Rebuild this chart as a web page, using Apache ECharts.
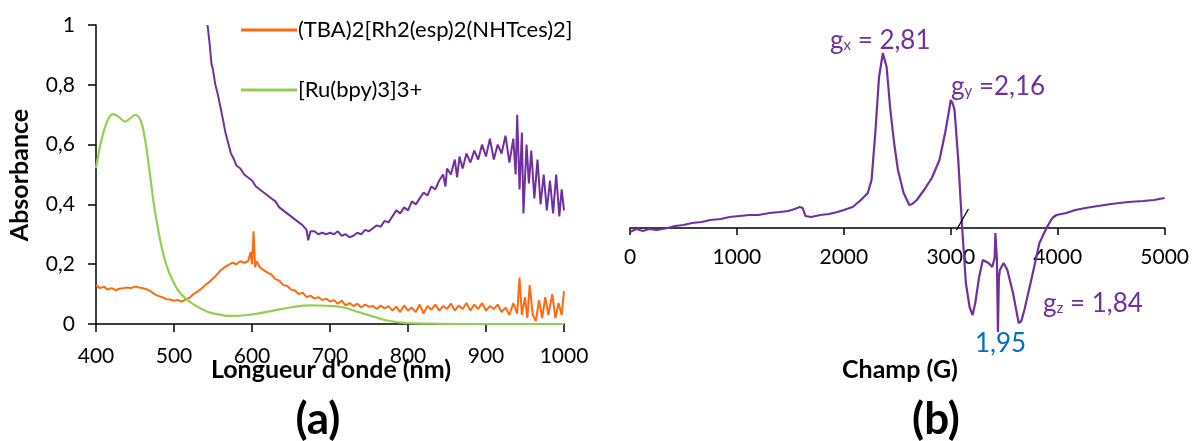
<!DOCTYPE html>
<html>
<head>
<meta charset="utf-8">
<script src="https://cdn.jsdelivr.net/npm/echarts@6/dist/echarts.min.js"></script>
<style>
html,body{margin:0;padding:0;background:#fff;}
#c{width:1192px;height:441px;}
</style>
</head>
<body>
<div id="c"></div>
<script>
// ---------- Data (a): UV-vis absorbance ----------
var wlTicks = [400, 500, 600, 700, 800, 900, 1000];
var absTicks = [0, 0.2, 0.4, 0.6, 0.8, 1];
var seriesNames = ['(TBA)2[Rh2(esp)2(NHTces)2]', '[Ru(bpy)3]3+'];

var rhSpectrum = [
 [400,0.13],[405,0.12],[410,0.125],[415,0.115],[420,0.12],[425,0.113],[430,0.118],[435,0.12],[440,0.122],[445,0.12],
 [450,0.125],[455,0.122],[460,0.12],[465,0.116],[470,0.11],[475,0.1],[480,0.094],[485,0.09],[490,0.083],[495,0.082],
 [500,0.078],[505,0.08],[510,0.075],[515,0.082],[520,0.088],[525,0.1],[530,0.108],[535,0.118],[540,0.13],[545,0.14],
 [550,0.152],[555,0.165],[560,0.18],[565,0.19],[570,0.198],[575,0.205],[580,0.2],[585,0.21],[590,0.205],[595,0.21],
 [598,0.24],[600,0.2],[602,0.31],[604,0.19],[606,0.21],[610,0.19],[615,0.18],[620,0.172],[625,0.165],[630,0.15],
 [635,0.145],[640,0.13],[645,0.128],[650,0.115],[655,0.112],[660,0.1],[665,0.105],[670,0.09],[675,0.095],[680,0.085],
 [685,0.09],[690,0.08],[695,0.085],[700,0.075],[705,0.08],[710,0.068],[715,0.078],[720,0.062],[725,0.07],[730,0.06],
 [735,0.068],[740,0.055],[745,0.065],[750,0.058],[755,0.06],[760,0.05],[765,0.062],[770,0.052],[775,0.06],[780,0.045],
 [785,0.058],[790,0.04],[795,0.062],[800,0.045],[805,0.055],[810,0.04],[815,0.065],[820,0.035],[825,0.06],[830,0.048],
 [835,0.065],[840,0.045],[845,0.06],[850,0.05],[855,0.068],[860,0.045],[865,0.062],[870,0.05],[875,0.07],[880,0.045],
 [885,0.065],[890,0.05],[895,0.07],[900,0.045],[905,0.06],[910,0.05],[915,0.065],[920,0.04],[925,0.055],[930,0.03],
 [935,0.07],[940,0.035],[943,0.155],[946,0.03],[950,0.09],[953,0.02],[956,0.13],[960,0.03],[964,0.01],[968,0.08],
 [972,0.02],[976,0.09],[980,0.03],[985,0.1],[989,0.02],[993,0.07],[997,0.03],[1000,0.11]
];

var ruSpectrum = [
 [400,0.521],[407,0.615],[415,0.682],[422,0.702],[430,0.691],[437,0.677],[444,0.688],[450,0.699],[457,0.682],[463,0.615],
 [469,0.504],[474,0.404],[479,0.326],[484,0.259],[491,0.192],[499,0.142],[508,0.103],[523,0.069],[543,0.041],[563,0.029],
 [573,0.027],[597,0.031],[622,0.042],[651,0.056],[676,0.062],[696,0.061],[716,0.056],[735,0.041],[755,0.025],[775,0.011],
 [799,0.003],[829,0.001],[868,0],[930,0],[1000,0]
];

var mixSpectrum = [
 [543,1.0],[546,0.93],[548,0.87],[550,0.85],[553,0.8],[556,0.77],[560,0.72],[563,0.68],[566,0.64],[570,0.6],
 [573,0.57],[577,0.55],[580,0.53],[585,0.52],[590,0.5],[595,0.49],[600,0.48],[605,0.46],[610,0.45],[615,0.44],
 [620,0.43],[625,0.42],[630,0.41],[635,0.39],[640,0.38],[645,0.37],[650,0.36],[655,0.35],[660,0.34],[665,0.33],
 [670,0.315],[672,0.28],[675,0.31],[680,0.31],[685,0.3],[690,0.305],[695,0.3],[700,0.305],[705,0.3],[710,0.31],
 [715,0.295],[720,0.3],[725,0.29],[730,0.295],[735,0.305],[740,0.3],[745,0.315],[750,0.31],[755,0.32],[760,0.33],
 [765,0.325],[770,0.345],[775,0.34],[780,0.36],[785,0.38],[790,0.37],[795,0.39],[800,0.38],[805,0.41],[810,0.4],
 [815,0.42],[820,0.44],[825,0.43],[830,0.46],[835,0.45],[840,0.48],[845,0.5],[848,0.46],[850,0.52],[855,0.5],
 [860,0.55],[863,0.49],[866,0.56],[870,0.52],[875,0.57],[880,0.54],[885,0.58],[890,0.55],[895,0.6],[900,0.56],
 [905,0.62],[910,0.55],[915,0.6],[920,0.57],[925,0.63],[930,0.54],[935,0.62],[938,0.5],[940,0.7],[943,0.45],
 [946,0.64],[948,0.37],[952,0.6],[955,0.47],[958,0.58],[962,0.42],[966,0.55],[970,0.4],[974,0.5],[978,0.38],
 [982,0.48],[986,0.37],[990,0.5],[994,0.36],[997,0.45],[1000,0.38]
];

// ---------- Data (b): EPR spectrum (arbitrary units) ----------
var fieldTicks = [0, 1000, 2000, 3000, 4000, 5000];
var eprSpectrum = [
 [0,-4],[60,-1],[120,-3],[180,-1],[250,-2],[353,0],[420,2],[500,3],[580,5],[670,6],[750,8],[850,9],[930,11],
 [1023,12],[1120,13],[1200,13],[1306,15],[1400,16],[1480,17],[1540,19],[1588,21],[1615,20],[1641,12],[1694,11],
 [1780,13],[1860,14],[1941,16],[2000,18],[2082,21],[2150,27],[2224,35],[2259,48],[2294,95],[2329,151],[2365,175],
 [2400,161],[2435,118],[2470,85],[2506,58],[2559,35],[2612,23],[2640,24],[2682,28],[2750,38],[2823,50],[2894,68],
 [2947,95],[2980,115],[3000,128],[3020,124],[3035,118],[3070,68],[3106,1],[3141,-55],[3176,-79],[3204,-87],
 [3229,-75],[3265,-49],[3300,-32],[3318,-30],[3353,-35],[3388,-39],[3410,-30],[3417,-5],[3431,-30],[3441,-104],
 [3450,-50],[3459,-42],[3494,-35],[3529,-42],[3582,-65],[3635,-95],[3660,-93],[3688,-82],[3759,-49],[3829,-15],
 [3900,1],[3950,10],[3988,13],[4080,15],[4164,18],[4260,20],[4376,22],[4500,24],[4658,26],[4800,27],[4900,28],[5000,30]
];
var breakMark = [[3053,-2],[3165,19]];

var annGx = 'g{sub|x} = 2,81';
var annGy = 'g{sub|y} =2,16';
var annGz = 'g{sub|z} = 1,84';
var ann195 = '1,95';

var PURPLE = '#7030A0', ORANGE = '#FF6A10', GREEN = '#92D050', BLUE = '#0070C0';
var FONT = 'Lato';

var chart = echarts.init(document.getElementById('c'), null, {renderer:'canvas'});

function fmtComma(v){ if (v === 0 || v === 1) return String(v); return v.toFixed(1).replace('.', ','); }
function fmtPlain(v){ return String(Math.round(v)); }

var subRich = { sub: { fontSize: 15, fontFamily: FONT, color: PURPLE, padding:[9,0,0,0] } };

var option = {
  backgroundColor: '#fff',
  animation: false,
  grid: [
    { left: 96, top: 25, width: 468, height: 299 },
    { left: 630, top: 18, width: 538, height: 210 }
  ],
  legend: {
    data: seriesNames,
    orient: 'vertical',
    left: 236, top: 14,
    itemWidth: 56, itemHeight: 3, itemGap: 38,
    icon: 'rect',
    textStyle: { fontFamily: FONT, fontSize: 22, color: '#000', padding:[0,0,0,-4] }
  },
  xAxis: [
    { gridIndex: 0, type: 'value', min: wlTicks[0], max: wlTicks[wlTicks.length-1], interval: 100,
      axisLine: { lineStyle: { color: '#000', width: 1.5 } },
      axisTick: { show: true, length: 8, lineStyle: { color: '#000', width: 1.5 } },
      axisLabel: { color: '#000', fontFamily: FONT, fontSize: 21, margin: 22, formatter: fmtPlain },
      splitLine: { show: false } },
    { gridIndex: 1, type: 'value', min: fieldTicks[0], max: fieldTicks[fieldTicks.length-1], interval: 1000,
      axisLine: { lineStyle: { color: '#000', width: 1.5 } },
      axisTick: { show: true, length: 7, lineStyle: { color: '#000', width: 1.5 } },
      axisLabel: { color: '#000', fontFamily: FONT, fontSize: 21, margin: 19, formatter: fmtPlain },
      splitLine: { show: false } }
  ],
  yAxis: [
    { gridIndex: 0, type: 'value', min: absTicks[0], max: absTicks[absTicks.length-1], interval: 0.2,
      axisLine: { show: true, lineStyle: { color: '#000', width: 1.5 } },
      axisTick: { show: true, length: 8, lineStyle: { color: '#000', width: 1.5 } },
      axisLabel: { color: '#000', fontFamily: FONT, fontSize: 21, margin: 21, formatter: fmtComma },
      splitLine: { show: false } },
    { gridIndex: 1, type: 'value', min: 0, max: 210, show: false, splitLine: { show: false } }
  ],
  series: [
    { name: 'mix', type: 'line', xAxisIndex: 0, yAxisIndex: 0, data: mixSpectrum, showSymbol: false,
      lineStyle: { color: PURPLE, width: 2 }, itemStyle: { color: PURPLE } },
    { name: seriesNames[0], type: 'line', xAxisIndex: 0, yAxisIndex: 0, data: rhSpectrum, showSymbol: false,
      lineStyle: { color: ORANGE, width: 2 }, itemStyle: { color: ORANGE } },
    { name: seriesNames[1], type: 'line', xAxisIndex: 0, yAxisIndex: 0, data: ruSpectrum, showSymbol: false, smooth: 0.4,
      lineStyle: { color: GREEN, width: 2.2 }, itemStyle: { color: GREEN } },
    { name: 'EPR', type: 'line', xAxisIndex: 1, yAxisIndex: 1, data: eprSpectrum, showSymbol: false, clip: false,
      lineStyle: { color: PURPLE, width: 2.2 }, itemStyle: { color: PURPLE } },
    { name: 'break', type: 'line', xAxisIndex: 1, yAxisIndex: 1, data: breakMark, showSymbol: false, clip: false,
      lineStyle: { color: '#000', width: 1.3 } }
  ],
  graphic: [
    { type: 'text', x: 20, y: 175, rotation: Math.PI/2,
      style: { text: 'Absorbance', fontFamily: FONT, fontWeight: 'bold', fontSize: 25, fill: '#000', textAlign:'center', textVerticalAlign:'middle' } },
    { type: 'text', x: 331, y: 370, style: { text: "Longueur d'onde (nm)", fontFamily: FONT, fontWeight: 'bold', fontSize: 25, fill: '#000', textAlign: 'center', textVerticalAlign: 'middle' } },
    { type: 'text', x: 318, y: 420, style: { text: '(a)', fontFamily: FONT, fontWeight: 'bold', fontSize: 44, fill: '#000', textAlign: 'center', textVerticalAlign: 'middle' } },
    { type: 'text', x: 900, y: 370, style: { text: 'Champ (G)', fontFamily: FONT, fontWeight: 'bold', fontSize: 25, fill: '#000', textAlign: 'center', textVerticalAlign: 'middle' } },
    { type: 'text', x: 936, y: 420, style: { text: '(b)', fontFamily: FONT, fontWeight: 'bold', fontSize: 44, fill: '#000', textAlign: 'center', textVerticalAlign: 'middle' } },
    { type: 'text', x: 830, y: 28, style: { text: annGx, rich: subRich, fontFamily: FONT, fontSize: 26, fill: PURPLE } },
    { type: 'text', x: 951, y: 74, style: { text: annGy, rich: subRich, fontFamily: FONT, fontSize: 26, fill: PURPLE } },
    { type: 'text', x: 1043, y: 291, style: { text: annGz, rich: subRich, fontFamily: FONT, fontSize: 26, fill: PURPLE } },
    { type: 'text', x: 975, y: 331, style: { text: ann195, fontFamily: FONT, fontSize: 26, fill: BLUE } }
  ]
};
chart.setOption(option);
</script>
</body>
</html>
